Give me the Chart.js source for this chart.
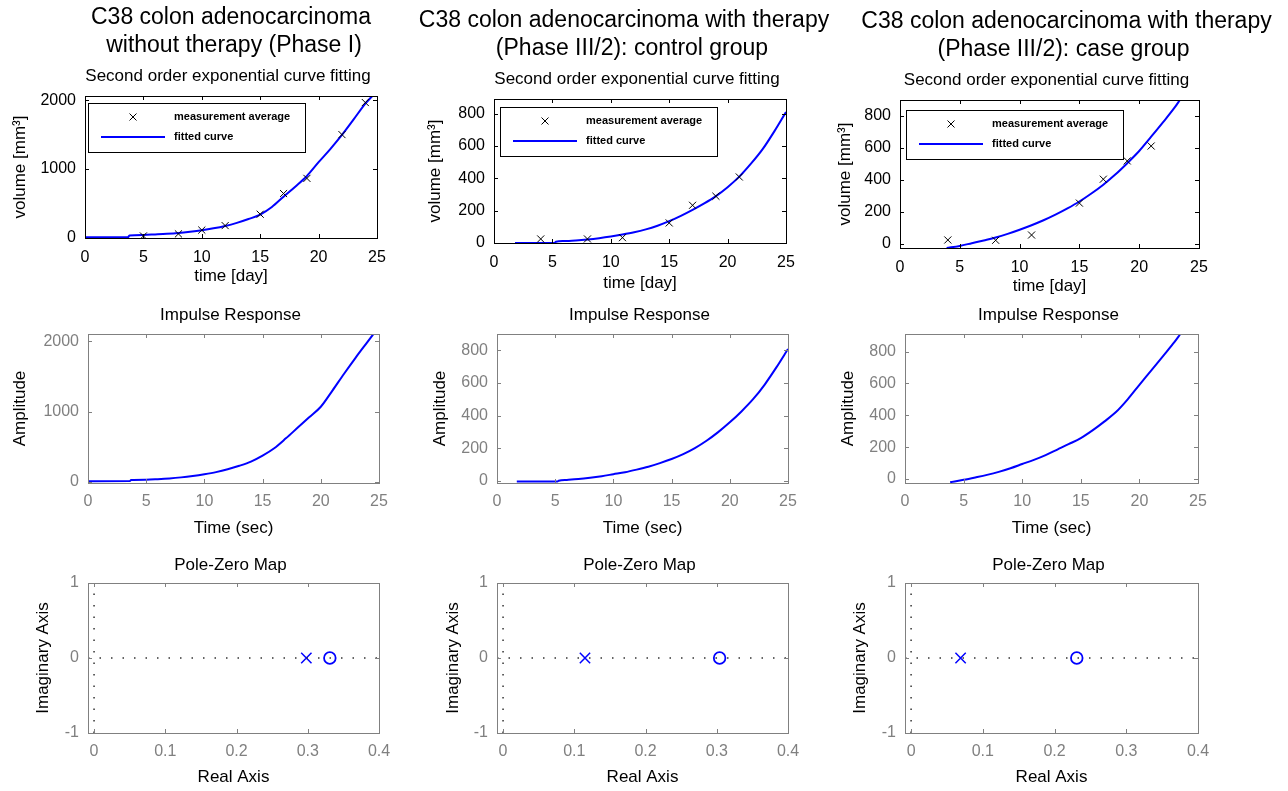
<!DOCTYPE html>
<html>
<head>
<meta charset="utf-8">
<script src="https://cdn.jsdelivr.net/npm/chart.js@4.4.0/dist/chart.umd.min.js"></script>
<style>
	html, body { margin: 0; padding: 0; background: #fff; }
	#painel { position: relative; width: 1288px; height: 791px; overflow: hidden; }
	#painel canvas { position: absolute; }
</style>
</head>
<body>
<div id="painel"></div>
<script>
var FONTE = "'Liberation Sans', Arial, Helvetica, sans-serif";
var AZUL = '#0000ff';

// medicoes (media) - fase I, controle, caso
var diasFase1 = [5, 8, 10, 12, 15, 17, 19, 22, 24];
var volumeFase1 = [30, 60, 115, 180, 345, 645, 865, 1500, 1965];
var diasControle = [4, 8, 11, 15, 17, 19, 21];
var volumeControle = [25, 25, 33, 124, 233, 289, 408];
var diasCaso = [4, 8, 11, 15, 17, 19, 21];
var volumeCaso = [25, 23, 56, 255, 404, 518, 611];

// curvas ajustadas
var tAjusteFase1 = [0, 3.7, 3.8, 5, 6, 7, 8, 9, 10, 11, 12, 13, 14, 15, 16, 17, 18, 19, 20, 21, 22, 23, 24, 24.6];
var vAjusteFase1 = [10, 12, 38, 45, 52, 60, 72, 90, 112, 140, 175, 220, 275, 340, 450, 600, 745, 900, 1100, 1290, 1495, 1720, 1950, 2060];
var tAjusteControle = [1.8, 5.2, 5.3, 6, 7, 8, 9, 10, 11, 12, 13, 14, 15, 16, 17, 18, 19, 20, 21, 22, 23, 24, 25];
var vAjusteControle = [0, 0, 8, 12, 16, 22, 30, 40, 52, 66, 84, 107, 135, 168, 205, 245, 290, 345, 410, 490, 580, 690, 810];
var tAjusteCaso = [3.9, 5, 6, 7, 8, 9, 10, 11, 12, 13, 14, 15, 16, 17, 18, 19, 20, 21, 22, 23, 23.4];
var vAjusteCaso = [-25, -12, 5, 22, 40, 63, 89, 117, 148, 183, 222, 265, 315, 370, 433, 504, 580, 669, 760, 855, 898];

// resposta ao impulso
var tImpulsoFase1 = [0, 3.6, 3.7, 5, 6, 7, 8, 9, 10, 11, 12, 13, 14, 15, 16, 17, 18, 19, 20, 21, 22, 23, 24, 24.5];
var vImpulsoFase1 = [10, 12, 28, 33, 40, 50, 65, 85, 110, 140, 180, 230, 290, 375, 480, 620, 770, 920, 1070, 1300, 1540, 1770, 1990, 2100];
var tImpulsoControle = [1.7, 5.2, 5.3, 6, 7, 8, 9, 10, 11, 12, 13, 14, 15, 16, 17, 18, 19, 20, 21, 22, 23, 24, 25];
var vImpulsoControle = [-5, -5, 0, 5, 10, 18, 28, 40, 52, 68, 86, 108, 133, 163, 200, 245, 298, 358, 425, 500, 590, 695, 808];
var tImpulsoCaso = [3.85, 5, 6, 7, 8, 9, 10, 11, 12, 13, 14, 15, 16, 17, 18, 19, 20, 21, 22, 23, 23.5];
var vImpulsoCaso = [-20, -5, 10, 26, 45, 68, 94, 120, 150, 185, 220, 257, 305, 360, 420, 500, 591, 680, 770, 860, 910];

// polos e zeros
var polos = [0.298, 0.115, 0.069];
var zeros = [0.331, 0.304, 0.231];

// ticks
var ticksTempo = [0, 5, 10, 15, 20, 25];
var ticksVolume2000 = [0, 1000, 2000];
var ticksVolume800 = [0, 200, 400, 600, 800];
var ticksReal = [0, 0.1, 0.2, 0.3, 0.4];
var ticksImag = [-1, 0, 1];

var titulos = [
	['C38 colon adenocarcinoma', 'without therapy (Phase I)'],
	['C38 colon adenocarcinoma with therapy', '(Phase III/2): control group'],
	['C38 colon adenocarcinoma with therapy', '(Phase III/2): case group']
];

function pares(xs, ys) {
	return xs.map(function(x, i) { return { x: x, y: ys[i] }; });
}

var moldura = {
	id: 'moldura',
	afterDraw: function(chart, args, opts) {
		var ctx = chart.ctx, a = chart.chartArea;
		var xs = chart.scales.x, ys = chart.scales.y;
		ctx.save();
		ctx.strokeStyle = opts.cor;
		ctx.lineWidth = 1;
		ctx.beginPath();
		xs.ticks.forEach(function(t) {
			var px = Math.round(xs.getPixelForValue(t.value)) + 0.5;
			ctx.moveTo(px, a.bottom); ctx.lineTo(px, a.bottom - 4);
			ctx.moveTo(px, a.top); ctx.lineTo(px, a.top + 4);
		});
		ys.ticks.forEach(function(t) {
			var py = Math.round(ys.getPixelForValue(t.value)) + 0.5;
			ctx.moveTo(a.left, py); ctx.lineTo(a.left + 4, py);
			ctx.moveTo(a.right, py); ctx.lineTo(a.right - 4, py);
		});
		ctx.stroke();
		ctx.strokeRect(a.left + 0.5, a.top + 0.5, a.right - a.left, a.bottom - a.top);
		ctx.restore();
	}
};

var textos = {
	id: 'textos',
	afterDraw: function(chart, args, opts) {
		var ctx = chart.ctx, a = chart.chartArea;
		var cx = (a.left + a.right) / 2;
		ctx.save();
		ctx.fillStyle = '#000';
		ctx.textAlign = 'center';
		ctx.textBaseline = 'middle';
		(opts.linhas || []).forEach(function(l) {
			ctx.font = l.size + 'px ' + FONTE;
			ctx.fillText(l.text, cx + (l.dx || 0), a.top + l.dy);
		});
		ctx.restore();
	}
};

var legendaInterna = {
	id: 'legendaInterna',
	afterDraw: function(chart, args, opts) {
		var ctx = chart.ctx, a = chart.chartArea;
		var x0 = a.left + opts.dx, y0 = a.top + opts.dy;
		ctx.save();
		ctx.fillStyle = '#fff';
		ctx.fillRect(x0, y0, 217, 49);
		ctx.strokeStyle = '#000';
		ctx.lineWidth = 1;
		ctx.strokeRect(Math.round(x0) + 0.5, Math.round(y0) + 0.5, 217, 49);
		// marcador x
		ctx.beginPath();
		ctx.moveTo(x0 + 41.5, y0 + 10.5); ctx.lineTo(x0 + 48.5, y0 + 17.5);
		ctx.moveTo(x0 + 48.5, y0 + 10.5); ctx.lineTo(x0 + 41.5, y0 + 17.5);
		ctx.stroke();
		ctx.strokeStyle = AZUL;
		ctx.lineWidth = 2;
		ctx.beginPath();
		ctx.moveTo(x0 + 13, y0 + 34); ctx.lineTo(x0 + 77, y0 + 34);
		ctx.stroke();
		ctx.fillStyle = '#000';
		ctx.font = 'bold 11px ' + FONTE;
		ctx.textBaseline = 'middle';
		ctx.fillText('measurement average', x0 + 86, y0 + 14);
		ctx.fillText('fitted curve', x0 + 86, y0 + 34);
		ctx.restore();
	}
};

function criarGrafico(cfg) {
	var canvas = document.createElement('canvas');
	canvas.width = cfg.cell.w;
	canvas.height = cfg.cell.h;
	canvas.style.left = cfg.cell.x + 'px';
	canvas.style.top = cfg.cell.y + 'px';
	document.getElementById('painel').appendChild(canvas);

	var a = cfg.area;
	var larguraY = -cfg.yLab + 10.2;
	var alturaX = cfg.xLab + 10.2;
	var padding = {
		left: a.l - cfg.cell.x - larguraY,
		right: cfg.cell.x + cfg.cell.w - a.r,
		top: a.t - cfg.cell.y,
		bottom: cfg.cell.y + cfg.cell.h - a.b - alturaX
	};

	function eixo(pos, min, max, valores, titulo, tamanho) {
		return {
			type: 'linear',
			position: pos,
			min: min,
			max: max,
			grid: { display: false, drawTicks: false },
			border: { display: false },
			afterBuildTicks: function(s) {
				s.ticks = valores.map(function(v) { return { value: v }; });
			},
			afterFit: function(s) {
				if (pos === 'left') s.width = tamanho; else s.height = tamanho;
			},
			ticks: {
				color: cfg.cor,
				font: { family: FONTE, size: 16 },
				padding: pos === 'left' ? 9 : cfg.padX,
				maxRotation: 0,
				autoSkip: false,
				callback: function(v) { return String(v); }
			},
			title: {
				display: true,
				text: titulo,
				color: '#000',
				font: { family: FONTE, size: 17 },
				padding: 0
			}
		};
	}

	return new Chart(canvas, {
		type: 'scatter',
		data: { datasets: cfg.datasets },
		options: {
			responsive: false,
			animation: false,
			events: [],
			layout: { padding: padding },
			scales: {
				x: eixo('bottom', cfg.x[0], cfg.x[1], cfg.xTicks, cfg.xTitulo, alturaX),
				y: eixo('left', cfg.y[0], cfg.y[1], cfg.yTicks, cfg.yTitulo, larguraY)
			},
			plugins: {
				legend: { display: false },
				tooltip: { enabled: false },
				moldura: { cor: cfg.cor },
				textos: { linhas: cfg.textos },
				legendaInterna: cfg.legenda || false
			}
		},
		plugins: [moldura, textos, legendaInterna]
	});
}

function medidas(xs, ys) {
	return {
		data: pares(xs, ys),
		pointStyle: 'crossRot',
		pointRadius: 5,
		borderColor: '#000',
		borderWidth: 1,
		showLine: false
	};
}

function curva(xs, ys) {
	return {
		data: pares(xs, ys),
		showLine: true,
		borderColor: AZUL,
		borderWidth: 2,
		pointRadius: 0,
		fill: false,
		cubicInterpolationMode: 'monotone'
	};
}

function pontilhado(pts) {
	return {
		data: pts,
		showLine: true,
		borderColor: '#333',
		borderWidth: 1.5,
		borderDash: [1.5, 10],
		pointRadius: 0,
		fill: false
	};
}

var colunas = [
	{ x: 0, w: 425, cx1: 0, cx2: 3 },
	{ x: 410, w: 440, cx1: -16, cx2: -8 },
	{ x: 830, w: 458, cx1: 17, cx2: 14 }
];
var areasTopo = [
	{ l: 85, t: 96, r: 377, b: 238 },
	{ l: 494, t: 99, r: 786, b: 243 },
	{ l: 900, t: 100, r: 1199, b: 248 }
];
var areasMeio = [
	{ l: 88, t: 334, r: 379, b: 483 },
	{ l: 497, t: 334, r: 788, b: 483 },
	{ l: 905, t: 334, r: 1198, b: 483 }
];
var areasBaixo = [
	{ l: 88, t: 583, r: 379, b: 733 },
	{ l: 497, t: 583, r: 788, b: 733 },
	{ l: 905, t: 583, r: 1198, b: 733 }
];

var dadosTopo = [
	{ dias: diasFase1, vol: volumeFase1, t: tAjusteFase1, v: vAjusteFase1, y: [0, 2060], ticks: ticksVolume2000, yLab: -65, xLab: 38, leg: { dx: 3, dy: 7 } },
	{ dias: diasControle, vol: volumeControle, t: tAjusteControle, v: vAjusteControle, y: [0, 890], ticks: ticksVolume800, yLab: -59, xLab: 40.5, leg: { dx: 6, dy: 8 } },
	{ dias: diasCaso, vol: volumeCaso, t: tAjusteCaso, v: vAjusteCaso, y: [-25, 898], ticks: ticksVolume800, yLab: -55, xLab: 38.5, leg: { dx: 6, dy: 10 } }
];
var dadosMeio = [
	{ t: tImpulsoFase1, v: vImpulsoFase1, y: [-15, 2105], ticks: ticksVolume2000, yLab: -67.5 },
	{ t: tImpulsoControle, v: vImpulsoControle, y: [-14, 900], ticks: ticksVolume800, yLab: -57 },
	{ t: tImpulsoCaso, v: vImpulsoCaso, y: [-25, 910], ticks: ticksVolume800, yLab: -57 }
];
var yLabPolo = [-45, -44, -45];
var realMin = -0.0085, realMax = 0.4;

colunas.forEach(function(col, i) {
	var d = dadosTopo[i];
	criarGrafico({
		cell: { x: col.x, y: 0, w: col.w, h: 300 },
		area: areasTopo[i],
		cor: '#000',
		padX: 9.5,
		x: [0, 25], y: d.y,
		xTicks: ticksTempo, yTicks: d.ticks,
		xTitulo: 'time [day]', yTitulo: 'volume [mm\u00b3]',
		xLab: d.xLab, yLab: d.yLab,
		textos: [
			{ text: titulos[i][0], dy: -78, dx: col.cx1, size: 23 },
			{ text: titulos[i][1], dy: -50, dx: col.cx2, size: 23 },
			{ text: 'Second order exponential curve fitting', dy: -20, dx: -3, size: 17 }
		],
		legenda: d.leg,
		datasets: [medidas(d.dias, d.vol), curva(d.t, d.v)]
	});

	var m = dadosMeio[i];
	criarGrafico({
		cell: { x: col.x, y: 290, w: col.w, h: 260 },
		area: areasMeio[i],
		cor: '#808080',
		padX: 8.5,
		x: [0, 25], y: m.y,
		xTicks: ticksTempo, yTicks: m.ticks,
		xTitulo: 'Time (sec)', yTitulo: 'Amplitude',
		xLab: 45, yLab: m.yLab,
		textos: [{ text: 'Impulse Response', dy: -19, dx: -3, size: 17 }],
		datasets: [curva(m.t, m.v)]
	});

	criarGrafico({
		cell: { x: col.x, y: 545, w: col.w, h: 246 },
		area: areasBaixo[i],
		cor: '#808080',
		padX: 8.5,
		x: [realMin, realMax], y: [-1, 1],
		xTicks: ticksReal, yTicks: ticksImag,
		xTitulo: 'Real Axis', yTitulo: 'Imaginary Axis',
		xLab: 44, yLab: yLabPolo[i],
		textos: [{ text: 'Pole-Zero Map', dy: -18, dx: -3, size: 17 }],
		datasets: [
			pontilhado([{ x: realMin, y: 0 }, { x: realMax, y: 0 }]),
			pontilhado([{ x: 0, y: -1 }, { x: 0, y: 1 }]),
			{
				data: [{ x: polos[i], y: 0 }],
				pointStyle: 'crossRot',
				pointRadius: 7.3,
				borderColor: AZUL,
				borderWidth: 1.5
			},
			{
				data: [{ x: zeros[i], y: 0 }],
				pointStyle: 'circle',
				pointRadius: 5.8,
				borderColor: AZUL,
				backgroundColor: 'rgba(0,0,0,0)',
				borderWidth: 1.8
			}
		]
	});
});
</script>
</body>
</html>
